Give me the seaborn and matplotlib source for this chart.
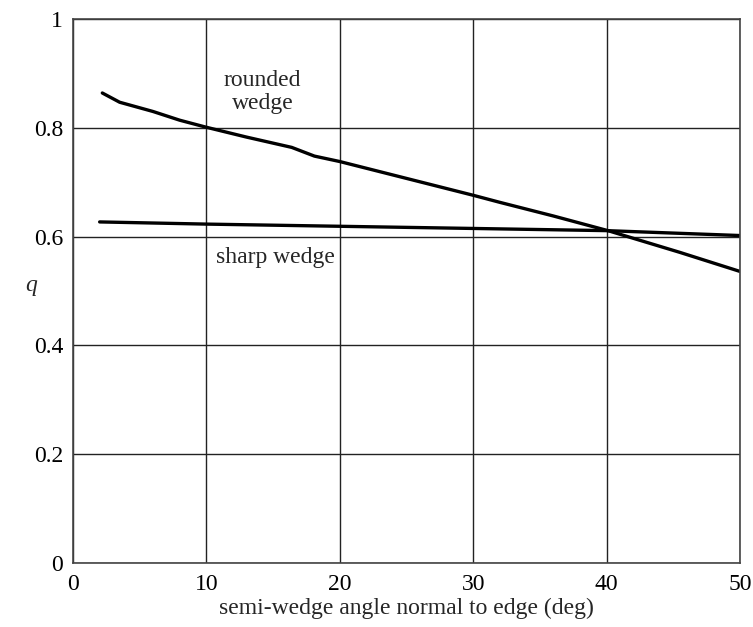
import matplotlib
matplotlib.use("Agg")
import matplotlib.pyplot as plt
import seaborn as sns
import pandas as pd

# Data
rounded_x = [2.2, 3.5, 6.0, 8.0, 10.0, 13.0, 16.4, 18.1, 20.0, 25.0, 30.0, 32.0, 36.0, 40.1, 45.5, 50.0]
rounded_q = [0.864, 0.847, 0.830, 0.814, 0.801, 0.783, 0.764, 0.748, 0.738, 0.707, 0.676, 0.663, 0.638, 0.611, 0.571, 0.536]
sharp_x = [2.0, 10.0, 20.0, 30.0, 40.0, 50.0]
sharp_q = [0.627, 0.623, 0.619, 0.615, 0.611, 0.602]

x_ticks = [0, 10, 20, 30, 40, 50]
y_ticks = [0, 0.2, 0.4, 0.6, 0.8, 1.0]
y_tick_labels = ["0", "0.2", "0.4", "0.6", "0.8", "1"]

df = pd.concat([
    pd.DataFrame({"angle": rounded_x, "q": rounded_q, "series": "rounded wedge"}),
    pd.DataFrame({"angle": sharp_x, "q": sharp_q, "series": "sharp wedge"}),
], ignore_index=True)

sns.set_style("white")
plt.rcParams["font.family"] = ["Liberation Serif", "DejaVu Serif"]

FS = 17

fig = plt.figure(figsize=(7.53, 6.27), dpi=100)
ax = fig.add_axes([0.0969, 0.102, 0.8858, 0.8677])

sns.lineplot(data=df, x="angle", y="q", units="series", estimator=None,
             color="black", linewidth=2.4, sort=False, legend=False, ax=ax)

ax.set_xlim(0, 50)
ax.set_ylim(0, 1)
ax.set_xticks(x_ticks)
ax.set_xticklabels([str(t) for t in x_ticks])
ax.set_yticks(y_ticks)
ax.set_yticklabels(y_tick_labels)
ax.tick_params(axis="y", length=0, labelsize=FS, pad=7, colors="black")
ax.tick_params(axis="x", length=0, labelsize=FS, pad=8, colors="black")
ax.grid(True, color="#222222", linewidth=1.0)
ax.set_axisbelow(True)
for s in ax.spines.values():
    s.set_color("#444444")
    s.set_linewidth(1.2)

ax.set_xlabel("semi-wedge angle normal to edge (deg)", fontsize=FS, labelpad=2)
ax.set_ylabel("q", fontsize=FS, style="italic", rotation=0)
ax.yaxis.set_label_coords(-0.062, 0.49)

ax.text(14.2, 0.887, "rounded", ha="center", va="center", fontsize=FS)
ax.text(14.2, 0.845, "wedge", ha="center", va="center", fontsize=FS)
ax.text(15.2, 0.562, "sharp wedge", ha="center", va="center", fontsize=FS)

fig.savefig("out.png", dpi=100)
